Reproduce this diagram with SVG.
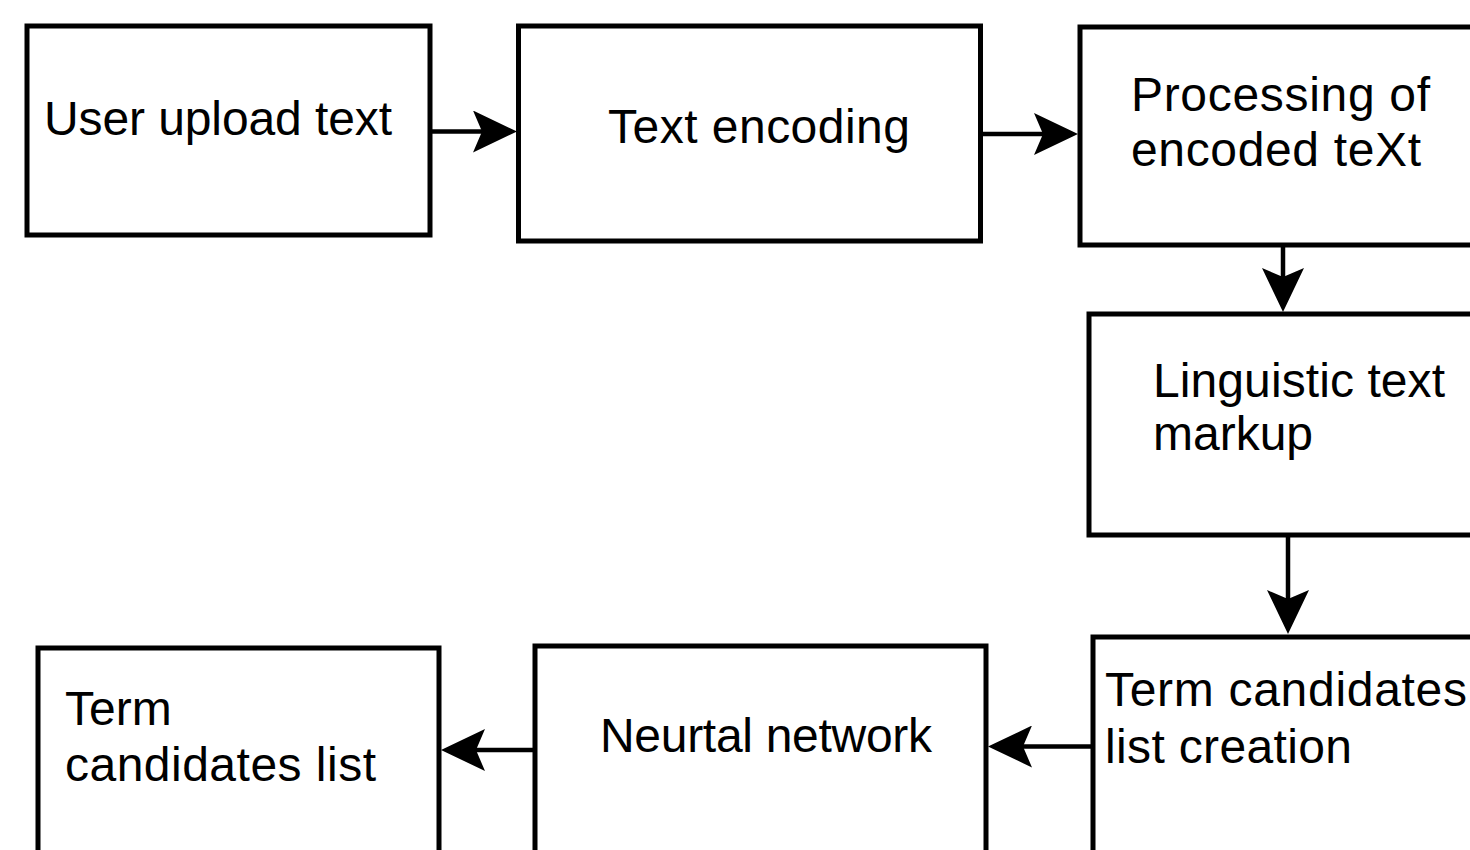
<svg xmlns="http://www.w3.org/2000/svg" width="1470" height="850" viewBox="0 0 1470 850">
  <defs>
    <style>
      .box { fill: #ffffff; stroke: #000000; stroke-width: 5; }
      .lbl { font-family: "Liberation Sans", Arial, sans-serif; font-size: 48px; fill: #000000; }
      .edge { fill: none; stroke: #000000; stroke-width: 4.5; marker-end: url(#head); }
    </style>
    <!-- classic notched arrowhead, tip 35px beyond the line end -->
    <marker id="head" markerUnits="userSpaceOnUse" markerWidth="44" markerHeight="42" viewBox="0 0 44 42" refX="9" refY="21" orient="auto">
      <path d="M0,0 L44,21 L0,42 L9,21 Z" fill="#000000"/>
    </marker>
  </defs>

  <rect width="1470" height="850" fill="#ffffff"/>

  <g id="node-upload">
    <rect class="box" x="27" y="26" width="403" height="209"/>
    <text class="lbl" x="44" y="135" textLength="348" lengthAdjust="spacing">User upload text</text>
  </g>

  <g id="node-encoding">
    <rect class="box" x="518.5" y="26" width="462" height="215"/>
    <text class="lbl" x="608" y="143" textLength="302" lengthAdjust="spacing">Text encoding</text>
  </g>

  <g id="node-processing">
    <rect class="box" x="1080" y="27" width="430" height="218"/>
    <text class="lbl" x="1131" y="111" textLength="299" lengthAdjust="spacing">Processing of</text>
    <text class="lbl" x="1131" y="166" textLength="290" lengthAdjust="spacing">encoded teXt</text>
  </g>

  <g id="node-markup">
    <rect class="box" x="1089" y="314" width="420" height="221"/>
    <text class="lbl" x="1153" y="397" textLength="292" lengthAdjust="spacing">Linguistic text</text>
    <text class="lbl" x="1153" y="450">markup</text>
  </g>

  <g id="node-candidates-creation">
    <rect class="box" x="1093" y="637" width="420" height="260"/>
    <text class="lbl" x="1105" y="706" textLength="362" lengthAdjust="spacing">Term candidates</text>
    <text class="lbl" x="1105" y="763" textLength="247" lengthAdjust="spacing">list creation</text>
  </g>

  <g id="node-network">
    <rect class="box" x="535" y="646" width="451" height="250"/>
    <text class="lbl" x="600" y="752" textLength="332" lengthAdjust="spacing">Neurtal network</text>
  </g>

  <g id="node-candidates-list">
    <rect class="box" x="38" y="648" width="401" height="250"/>
    <text class="lbl" x="65" y="725">Term</text>
    <text class="lbl" x="65" y="781" textLength="311" lengthAdjust="spacing">candidates list</text>
  </g>

  <g id="connectors">
    <line class="edge" x1="432" y1="131.5" x2="482" y2="131.5"/>
    <line class="edge" x1="982" y1="134" x2="1043" y2="134"/>
    <line class="edge" x1="1283" y1="247" x2="1283" y2="277"/>
    <line class="edge" x1="1288" y1="537" x2="1288" y2="599"/>
    <line class="edge" x1="1091" y1="746.5" x2="1023" y2="746.5"/>
    <line class="edge" x1="533" y1="750" x2="476" y2="750"/>
  </g>
</svg>
